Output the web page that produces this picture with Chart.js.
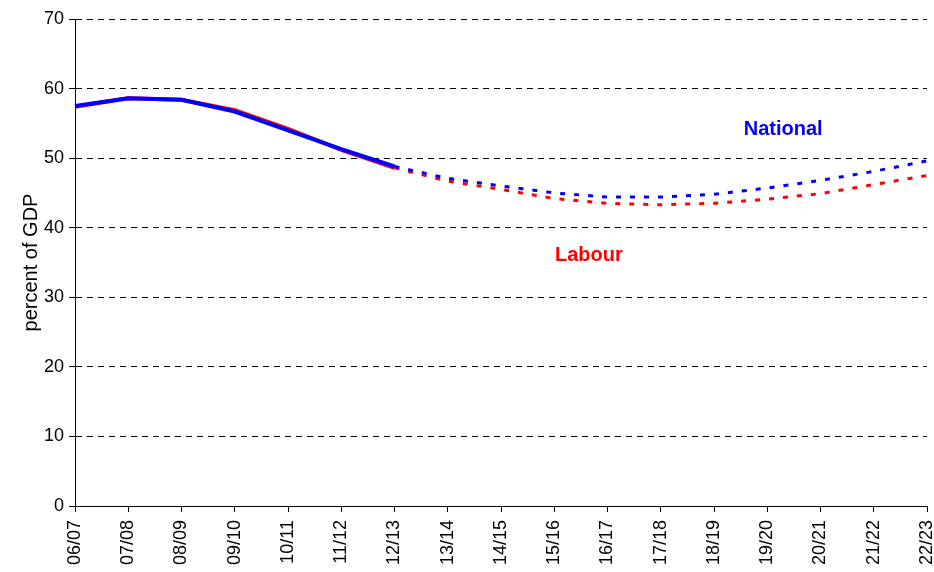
<!DOCTYPE html>
<html>
<head>
<meta charset="utf-8">
<script src="https://cdn.jsdelivr.net/npm/chart.js@4"></script>
<style>
  html, body { margin: 0; padding: 0; background: #fff; }
  #wrap { width: 934px; height: 572px; }
</style>
</head>
<body>
<div id="wrap"><canvas id="debt-chart"></canvas></div>
<script>
// Years on the x axis
const years = ['06/07', '07/08', '08/09', '09/10', '10/11', '11/12', '12/13', '13/14', '14/15',
    '15/16', '16/17', '17/18', '18/19', '19/20', '20/21', '21/22', '22/23'];

// Percent of GDP (actuals to 12/13, projections after)
const national = [57.5, 58.6, 58.4, 56.7, 54.0, 51.3, 48.8, 47.1, 46.0, 45.0, 44.4, 44.4, 44.8, 45.7, 46.8, 48.1, 49.6];
const labour = [57.4, 58.6, 58.4, 56.9, 54.2, 51.2, 48.6, 46.7, 45.5, 44.2, 43.5, 43.3, 43.5, 44.1, 44.9, 46.2, 47.5];

const yTicks = [0, 10, 20, 30, 40, 50, 60, 70];
const lastActual = 6; // index of 12/13, dotted after that

const font = 'Liberation Sans, Arial, sans-serif';

// Series names written inside the plot
const seriesLabels = [
    { text: 'National', color: '#0000ff', x: 13.3, y: 54.1 },
    { text: 'Labour', color: '#ff0000', x: 9.65, y: 36.0 }
];

const labelPlugin = {
    id: 'seriesLabels',
    afterDatasetsDraw(chart) {
        const ctx = chart.ctx;
        const xs = chart.scales.x;
        const ys = chart.scales.y;
        ctx.save();
        ctx.font = 'bold 20px ' + font;
        ctx.textAlign = 'center';
        ctx.textBaseline = 'middle';
        seriesLabels.forEach(l => {
            ctx.fillStyle = l.color;
            ctx.fillText(l.text, xs.getPixelForValue(l.x), ys.getPixelForValue(l.y));
        });
        ctx.restore();
    }
};

function makeDataset(label, data, color) {
    return {
        label: label,
        data: data,
        borderColor: color,
        backgroundColor: color,
        pointRadius: 0,
        tension: 0,
        fill: false,
        borderWidth: 4,
        segment: {
            borderDash: ctx => ctx.p0DataIndex >= lastActual ? [5, 9] : undefined,
            borderWidth: ctx => ctx.p0DataIndex >= lastActual ? 3 : 4
        }
    };
}

const ctx = document.getElementById('debt-chart').getContext('2d');
new Chart(ctx, {
    type: 'line',
    data: {
        labels: years,
        datasets: [
            makeDataset('National', national, '#0000ff'),
            makeDataset('Labour', labour, '#ff0000')
        ]
    },
    options: {
        responsive: true,
        maintainAspectRatio: false,
        animation: false,
        layout: { padding: 0 },
        plugins: {
            legend: { display: false },
            tooltip: { enabled: false }
        },
        scales: {
            x: {
                offset: false,
                afterFit: axis => {
                    axis.height = 66;
                    axis.paddingLeft = 0;
                    axis.paddingRight = 7;
                },
                grid: {
                    drawOnChartArea: false,
                    drawTicks: true,
                    tickLength: 6,
                    color: '#000'
                },
                border: { color: '#000', width: 1 },
                ticks: {
                    color: '#000',
                    font: { family: font, size: 18 },
                    maxRotation: 90,
                    minRotation: 90,
                    autoSkip: false,
                    padding: 8
                }
            },
            y: {
                min: 0,
                max: 70,
                afterBuildTicks: axis => { axis.ticks = yTicks.map(v => ({ value: v })); },
                afterFit: axis => {
                    axis.width = 75;
                    axis.paddingTop = 19;
                    axis.paddingBottom = 0;
                },
                grid: {
                    color: '#000',
                    lineWidth: 1,
                    tickLength: 6,
                    tickBorderDash: []
                },
                border: { color: '#000', width: 1, dash: [6, 5] },
                ticks: {
                    color: '#000',
                    font: { family: font, size: 18 },
                    padding: 5
                },
                title: {
                    display: true,
                    text: 'percent of GDP',
                    color: '#000',
                    font: { family: font, size: 20 },
                    padding: { top: 19, bottom: 0 }
                }
            }
        }
    },
    plugins: [labelPlugin]
});
</script>
</body>
</html>
